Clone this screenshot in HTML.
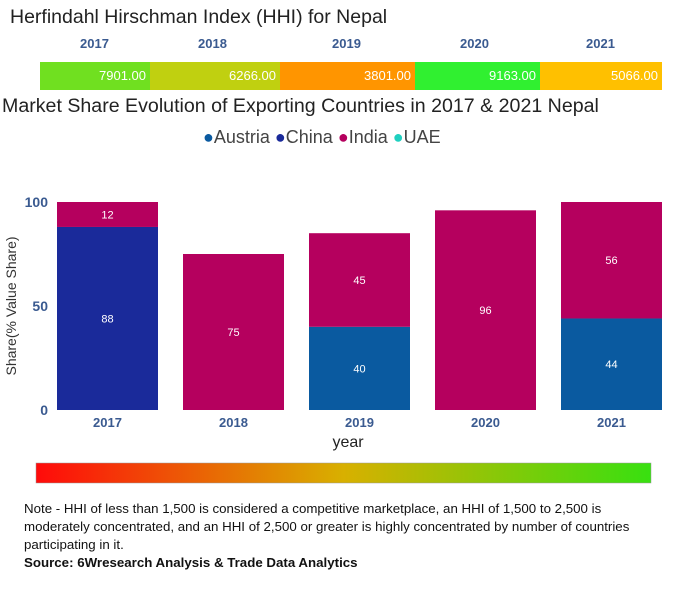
<!DOCTYPE html>
<html><head><meta charset="utf-8"><style>
body{margin:0;width:680px;height:600px;background:#fff;font-family:"Liberation Sans",sans-serif;position:relative;overflow:hidden}
.a{position:absolute}
.lg{margin-right:5px}
</style></head><body>
<div class="a" style="left:10px;top:6px;font-size:19.5px;color:#222">Herfindahl Hirschman Index (HHI) for Nepal</div>
<div id="hhi"></div>
<div class="a" style="left:2px;top:95px;font-size:19.6px;color:#222">Market Share Evolution of Exporting Countries in 2017 &amp; 2021 Nepal</div>
<div class="a" style="left:203px;top:127px;font-size:18px;color:#444">
<span class="lg"><span style="color:#0a5aa0">●</span>Austria</span><span class="lg"><span style="color:#1a2a9a">●</span>China</span><span class="lg"><span style="color:#b5005e">●</span>India</span><span><span style="color:#20d0c0">●</span>UAE</span></div>
<svg class="a" style="left:0;top:0" width="680" height="600" id="svg">
<defs><linearGradient id="g"><stop offset="0" stop-color="#ff0a0a"/><stop offset="0.5" stop-color="#d8b000"/><stop offset="1" stop-color="#38e010"/></linearGradient></defs>
<text x="16" y="306" transform="rotate(-90 16 306)" text-anchor="middle" font-size="14" fill="#333">Share(% Value Share)</text>
<text x="348" y="447" text-anchor="middle" font-size="16" fill="#222">year</text>
<rect x="36" y="463" width="615" height="20" fill="url(#g)" stroke="#999" stroke-width="0.5"/>
</svg>
<div class="a" style="left:24px;top:500px;width:640px;font-size:13.3px;line-height:18px;color:#111">Note - HHI of less than 1,500 is considered a competitive marketplace, an HHI of 1,500 to 2,500 is moderately concentrated, and an HHI of 2,500 or greater is highly concentrated by number of countries participating in it.<br><b>Source: 6Wresearch Analysis &amp; Trade Data Analytics</b></div>
<script>
const years=["2017","2018","2019","2020","2021"];
const hhi=[7901,6266,3801,9163,5066];
const austria=[0,0,40,0,44];
const china=[88,0,0,0,0];
const india=[12,75,45,96,56];
const yTicks=[0,50,100];
const ns="http://www.w3.org/2000/svg",svg=document.getElementById("svg");
const hx=[40,150,280,415,540,662],hc=["#70e020","#c0d010","#ff9500","#30f030","#ffc000"];
const hd=document.getElementById("hhi");
years.forEach((y,i)=>{
 const d=document.createElement("div");d.className="a";
 
 
 d.style.cssText=`left:${hx[i]}px;top:62px;width:${hx[i+1]-hx[i]}px;height:28px;background:${hc[i]};color:#fff;font-size:13px;text-align:right;line-height:28px;box-sizing:border-box;padding-right:4px`;
 d.textContent=hhi[i].toFixed(2);hd.appendChild(d);
 const l=document.createElement("div");l.className="a";
 
 
 l.style.cssText=`left:${[80,198,332,460,586][i]}px;top:36px;font-size:13px;font-weight:bold;color:#3a5a90`;
 l.textContent=y;hd.appendChild(l);
});
const y0=410,y1=202,yS=v=>y0-(y0-y1)*v/100;
const xS=i=>57+i*126,bw=101;
function el(t,a,p){const e=document.createElementNS(ns,t);for(const k in a)e.setAttribute(k,a[k]);(p||svg).appendChild(e);return e;}
yTicks.forEach(t=>{const e=el("text",{x:48,y:yS(t)+5,"text-anchor":"end","font-size":14,"font-weight":"bold",fill:"#3a5a90"});


e.textContent=t;});
const series=[["austria",austria,"#0a5aa0"],["china",china,"#1a2a9a"],["india",india,"#b5005e"]];
years.forEach((y,i)=>{
 let base=0;
 series.forEach(([n,arr,c])=>{const v=arr[i];if(!v)return;
  const r=el("rect",{x:xS(i),y:yS(base+v),width:bw,height:yS(base)-yS(base+v),fill:c});
  
  
  const t=el("text",{x:xS(i)+bw/2,y:(yS(base)+yS(base+v))/2+4,"text-anchor":"middle","font-size":11,fill:"#fff"});
  
  
  t.textContent=v;base+=v;});
 const xt=el("text",{x:xS(i)+bw/2,y:427,"text-anchor":"middle","font-size":13,"font-weight":"bold",fill:"#3a5a90"});
 
 
 xt.textContent=y;
});
</script>
</body></html>
